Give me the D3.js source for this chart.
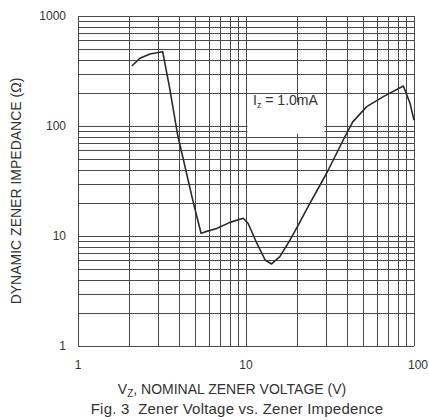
<!DOCTYPE html>
<html>
<head>
<meta charset="utf-8">
<script src="https://cdn.jsdelivr.net/npm/d3@7"></script>
<style>
  html, body { margin: 0; padding: 0; background: #fff; }
  svg { display: block; font-family: "Liberation Sans", Arial, sans-serif; }
</style>
</head>
<body>
<svg id="chart" width="429" height="420"></svg>
<script>
// Data (Vz in volts, Zz in ohms)
const voltage   = [2.09, 2.34, 2.68, 3.19, 3.50, 3.92, 4.82, 5.40, 5.70, 6.69, 8.03, 9.64, 10.3, 11.6, 13.0, 14.2, 15.9, 18.3, 20.5, 24.0, 30.2, 37.9, 43.2, 52.3, 65.7, 86.4, 94.7, 100];
const impedance = [351, 413, 452, 474, 228, 82.8, 21.2, 10.6, 10.9, 11.7, 13.3, 14.5, 13.0, 8.6, 6.05, 5.57, 6.5, 9.2, 12.6, 19.8, 37.2, 74.6, 109, 150, 185, 231, 161, 113];
const xTickLabels = ["1", "10", "100"];
const yTickLabels = ["1", "10", "100", "1000"];
const annotation = "1.0mA";

const svg = d3.select("#chart");
const W = 429, H = 420;
const m = { left: 78, right: 15, top: 16, bottom: 74 };

const x = d3.scaleLog().domain([1, 100]).range([m.left, W - m.right]);
const y = d3.scaleLog().domain([1, 1000]).range([H - m.bottom, m.top]);

// grid values: 1..9 multiples per decade
const xGrid = [];
for (let d = 1; d <= 10; d *= 10) for (let k = 1; k <= 9; k++) xGrid.push(k * d);
xGrid.push(100);
const yGrid = [];
for (let d = 1; d <= 100; d *= 10) for (let k = 1; k <= 9; k++) yGrid.push(k * d);
yGrid.push(1000);

const g = svg.append("g");
g.selectAll("line.vx").data(xGrid).enter().append("line")
  .attr("x1", d => Math.round(x(d)) + 0.5).attr("x2", d => Math.round(x(d)) + 0.5)
  .attr("y1", y(1)).attr("y2", y(1000))
  .attr("stroke", "#4a4a4a").attr("stroke-width", 1);
g.selectAll("line.hy").data(yGrid).enter().append("line")
  .attr("y1", d => Math.round(y(d)) + 0.5).attr("y2", d => Math.round(y(d)) + 0.5)
  .attr("x1", x(1)).attr("x2", x(100))
  .attr("stroke", "#4a4a4a").attr("stroke-width", 1);

// annotation background box
svg.append("rect")
  .attr("x", x(10.2)).attr("y", y(165))
  .attr("width", x(29.3) - x(10.2)).attr("height", y(85) - y(165))
  .attr("fill", "#fff");

// curve
const line = d3.line()
  .x((d, i) => x(voltage[i]))
  .y((d, i) => y(impedance[i]))
  .curve(d3.curveLinear);
svg.append("path")
  .datum(voltage)
  .attr("d", line)
  .attr("fill", "none")
  .attr("stroke", "#2a2a2a")
  .attr("stroke-width", 1.6)
  .attr("stroke-linejoin", "round");

// annotation text
const ann = svg.append("text")
  .attr("x", 253).attr("y", 105)
  .attr("font-size", 14).attr("fill", "#333");
ann.append("tspan").text("I");
ann.append("tspan").attr("font-size", 9).attr("dy", 3).text("z");
ann.append("tspan").attr("dy", -3).text(" = " + annotation);

// x tick labels
const xVals = [1, 10, 100];
svg.selectAll("text.xt").data(xVals).enter().append("text")
  .attr("x", d => x(d) + (d === 100 ? 4 : 0))
  .attr("y", H - m.bottom + 23)
  .attr("text-anchor", "middle")
  .attr("font-size", 12).attr("fill", "#333")
  .text((d, i) => xTickLabels[i]);

// y tick labels
const yVals = [1, 10, 100, 1000];
svg.selectAll("text.yt").data(yVals).enter().append("text")
  .attr("x", m.left - 12)
  .attr("y", d => y(d) + 4)
  .attr("text-anchor", "end")
  .attr("font-size", 12).attr("fill", "#333")
  .text((d, i) => yTickLabels[i]);

// x title
const xt = svg.append("text")
  .attr("x", 232).attr("y", 394)
  .attr("text-anchor", "middle")
  .attr("font-size", 14).attr("fill", "#333");
xt.append("tspan").text("V");
xt.append("tspan").attr("font-size", 10).attr("dy", 2.5).text("Z");
xt.append("tspan").attr("dy", -2.5).text(", NOMINAL ZENER VOLTAGE (V)");

// caption
svg.append("text")
  .attr("x", 237).attr("y", 414)
  .attr("text-anchor", "middle")
  .attr("font-size", 15).attr("fill", "#333")
  .attr("letter-spacing", 0.2)
  .attr("xml:space", "preserve")
  .text("Fig. 3  Zener Voltage vs. Zener Impedence");

// y title
svg.append("text")
  .attr("transform", "translate(21,191) rotate(-90)")
  .attr("text-anchor", "middle")
  .attr("font-size", 14).attr("fill", "#333")
  .text("DYNAMIC ZENER IMPEDANCE (Ω)");
</script>
</body>
</html>
